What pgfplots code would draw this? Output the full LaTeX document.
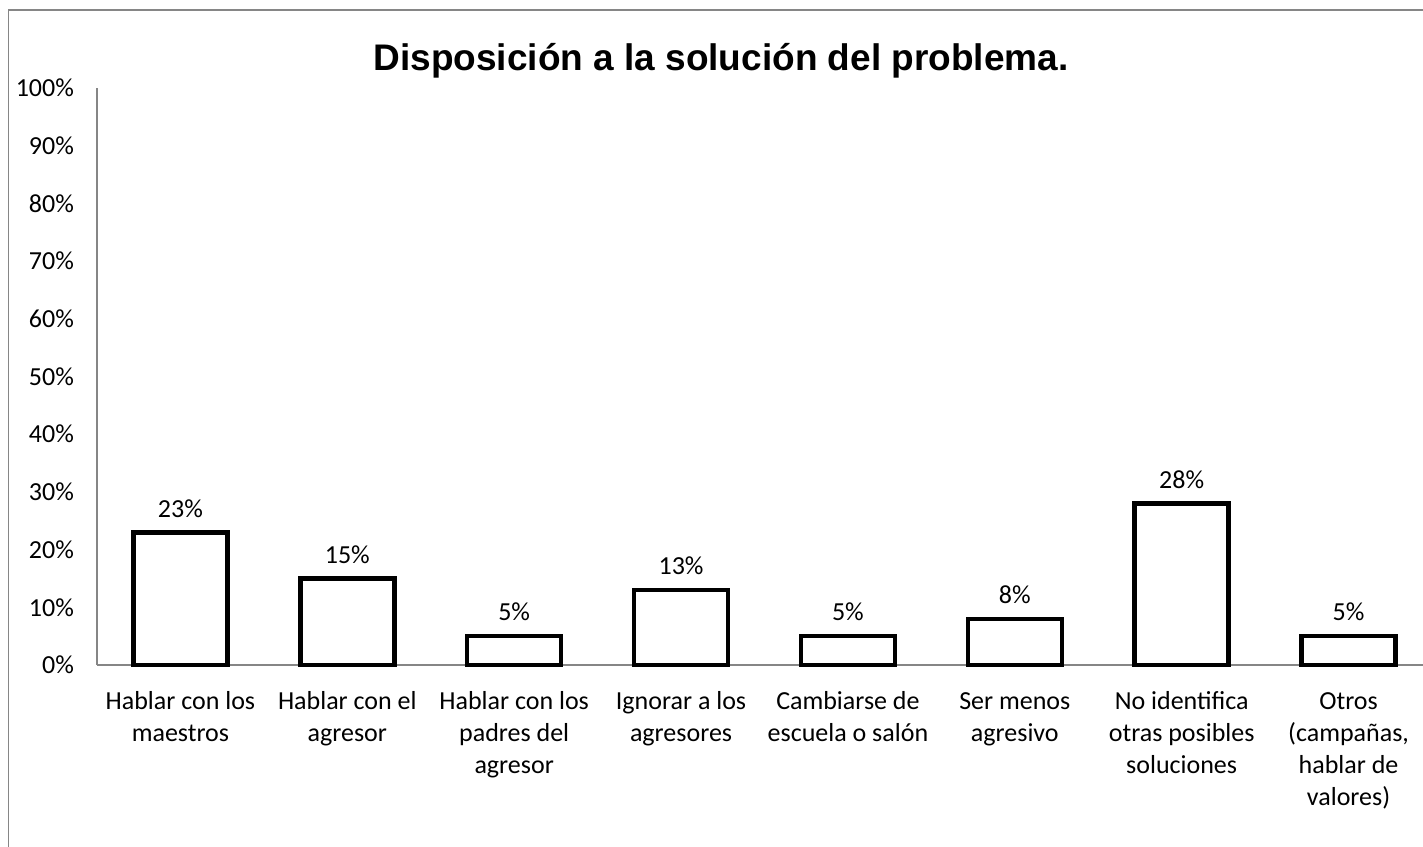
\documentclass[border=0pt]{standalone}
\usepackage{graphicx}
\usepackage{pgfplots}
\pgfplotsset{compat=1.18}
\usepackage{fontspec}
\setmainfont{Carlito}
\newfontfamily\titlefont{Liberation Sans}
\definecolor{axgray}{HTML}{868686}
\begin{document}
\begin{tikzpicture}[x=0.5pt,y=0.5pt]
\useasboundingbox (0,0) rectangle (1423,846);
\draw[axgray, line width=0.8pt] (8.5,-20) -- (8.5,836) -- (1450,836);
\node[font=\titlefont\bfseries\fontsize{18.5}{22}\selectfont, anchor=base, inner sep=0pt] at (721,775) {Disposición a la solución del problema.};
\begin{axis}[
  at={(48.5pt,90.5pt)}, anchor=south west,
  scale only axis, width=667.5pt, height=288.5pt,
  xmin=0, xmax=8, ymin=0, ymax=100,
  axis x line*=bottom, axis y line*=left,
  axis line style={-, axgray, line width=0.7pt},
  major tick length=0pt,
  /pgf/number format/assume math mode=true,
  ytick={0,10,...,100},
  yticklabels={0\%,10\%,20\%,30\%,40\%,50\%,60\%,70\%,80\%,90\%,100\%},
  yticklabel style={font=\fontsize{13}{16}\selectfont, xshift=-8pt},
  xtick={0.5,1.5,...,7.5},
  xticklabels={{\strut Hablar con los\\maestros},{\strut Hablar con el\\agresor},{\strut Hablar con los\\padres del\\agresor},{\strut Ignorar a los\\agresores},{\strut Cambiarse de\\escuela o salón},{\strut Ser menos\\agresivo},{\strut No identifica\\otras posibles\\soluciones},{\strut Otros\\(campañas,\\hablar de\\valores)}},
  xticklabel style={font=\fontsize{13}{16}\selectfont, align=center, yshift=-7.5pt},
  clip=false,
  nodes near coords={\pgfmathprintnumber{\pgfplotspointmeta}\%},
  nodes near coords style={font=\fontsize{13}{16}\selectfont, black, yshift=3pt},
]
\addplot[ybar, bar width=47pt, fill=white, draw=black, line width=2.3pt] coordinates {
(0.5,23) (1.5,15) (2.5,5) (3.5,13) (4.5,5) (5.5,8) (6.5,28) (7.5,5)};
\end{axis}
\end{tikzpicture}
\end{document}
